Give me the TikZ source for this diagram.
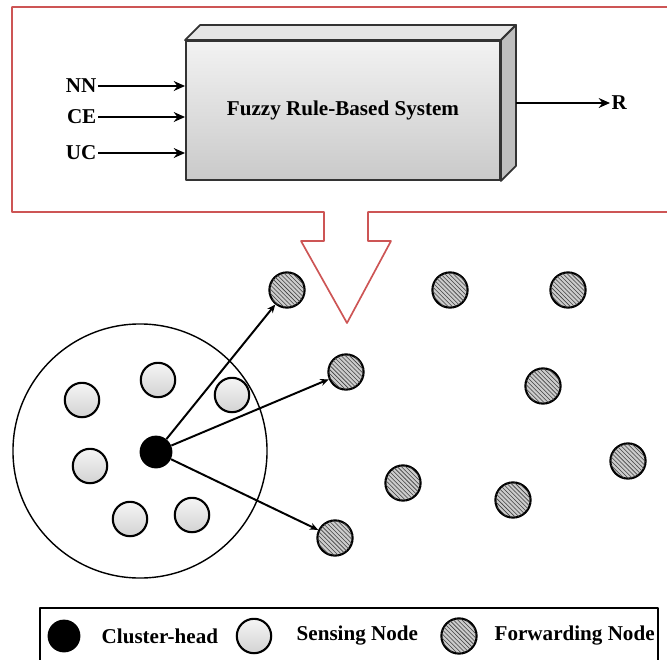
\documentclass[tikz,border=0pt]{standalone}
\usepackage{fontspec}
\setmainfont{Liberation Serif}
\usepackage{xcolor}
\usetikzlibrary{arrows.meta,patterns,positioning}
\definecolor{calloutred}{RGB}{205,85,85}
\tikzset{
  every picture/.style={line join=round, >=Stealth},
  lbl/.style={font=\bfseries\fontsize{15}{17}\selectfont, inner sep=1pt},
  sensor/.style={circle, draw, line width=1.5pt, minimum size=0.86cm, inner sep=0pt, top color=gray!8, bottom color=gray!35},
  fwd/.style={circle, draw, line width=1.5pt, minimum size=0.88cm, inner sep=0pt, fill=gray!40, postaction={pattern=north west lines, pattern color=black!75}},
  head/.style={circle, fill=black, minimum size=0.82cm, inner sep=0pt},
  fbox/.style={draw=black!80, line width=1.3pt, minimum width=7.85cm, minimum height=3.475cm, top color=gray!10, bottom color=gray!42},
  link/.style={-{Stealth[length=6pt,width=5pt]}, line width=1.4pt},
  feed/.style={-{Stealth[length=8pt,width=7pt]}, line width=2pt},
}
\begin{document}
\begin{tikzpicture}[x=0.025cm,y=-0.025cm]
\useasboundingbox (0,0) rectangle (667,660);
\clip (0,0) rectangle (667,660);
% callout
\draw[calloutred, line width=1.2pt](667,7)--(12,7)--(12,212)--(324,212)--(324,241)--(301,241)
--(347,323)--(391,241)--(368,241)--(368,212)--(667,212);
% fuzzy system block
\node[fbox,lbl] (frs) at (343,110.5) {Fuzzy Rule-Based System};
\draw[draw=black!80, line width=1.3pt, fill=gray!20](frs.north west)--++(15,-15)
--([shift={(15,-15)}]frs.north east)--(frs.north east)--cycle;
\draw[draw=black!80, line width=1.3pt, fill=gray!50](frs.north east)--([shift={(15,-15)}]frs.north east)
--([shift={(15,-15)}]frs.south east)--(frs.south east)--cycle;
\node[lbl, anchor=east] (nn) at (98,86) {NN};
\node[lbl, anchor=east] (ce) at (98,117) {CE};
\node[lbl, anchor=east] (uc) at (98,153) {UC};
\foreach \v in {nn,ce,uc}
  \draw[feed](\v.east)--(\v.east -| frs.west);
\coordinate (out) at ([shift={(15,-7.5)}]frs.east);
\node[lbl, anchor=west] (r) at (610,103) {R};
\draw[feed](out)--(r.west);
% cluster
\draw[line width=1pt](140,451) circle[radius=3.175cm];
\node[sensor] (s1) at (82,400) {};
\node[sensor] (s2) at (158,380) {};
\node[sensor] (s3) at (232,395) {};
\node[sensor] (s4) at (90,466) {};
\node[sensor] (s5) at (130,519) {};
\node[sensor] (s6) at (192,515) {};
\node[head] (ch) at (156,452) {};
% forwarding nodes
\node[fwd] (f1) at (287,290) {};
\node[fwd] (f2) at (346,372) {};
\node[fwd] (f3) at (335,538) {};
\node[fwd] (f4) at (450,290) {};
\node[fwd] (f5) at (568,290) {};
\node[fwd] (f6) at (543,386) {};
\node[fwd] (f7) at (403,483) {};
\node[fwd] (f8) at (513,500) {};
\node[fwd] (f9) at (628,461) {};
\foreach \f in {f1,f2,f3}
  \draw[link](ch)--(\f);
% legend
\draw[line width=1pt](40,608) rectangle (658,680);
\node[head] (lh) at (64,636) {};
\node[lbl, anchor=west] (lht) at (100,636) {Cluster-head};
\node[sensor] (ls) at (254,636) {};
\node[lbl, anchor=west] (lst) at (295,636) {Sensing Node};
\node[fwd] (lf) at (459,636) {};
\node[lbl, anchor=west] (lft) at (493,636) {Forwarding Node};
\end{tikzpicture}
\end{document}
